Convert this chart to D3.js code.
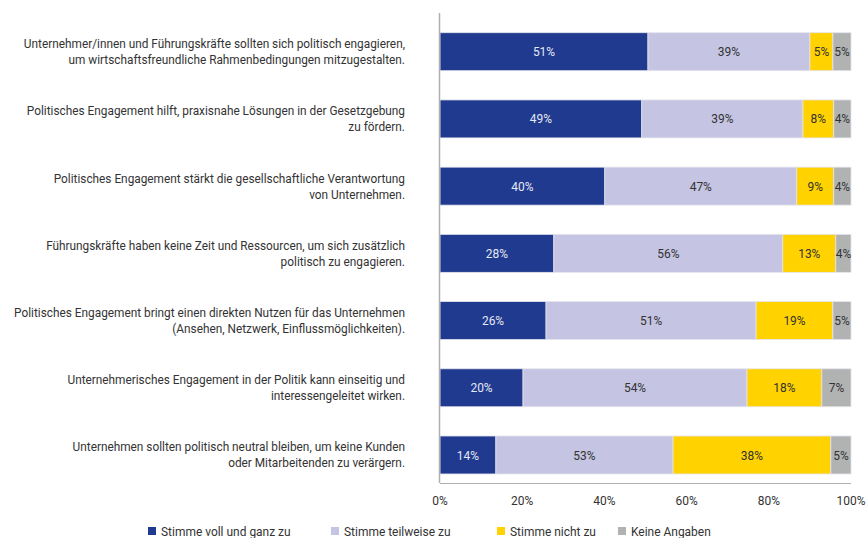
<!DOCTYPE html>
<html><head><meta charset="utf-8">
<script src="https://cdn.jsdelivr.net/npm/d3@7"></script>
<style>
body{margin:0;background:#fff;}
text{font-family:"Roboto","Liberation Sans",sans-serif;}
</style></head>
<body><svg id="c" width="867" height="538"></svg>
<script>
const categories = [
  ["Unternehmer/innen und Führungskräfte sollten sich politisch engagieren,","um wirtschaftsfreundliche Rahmenbedingungen mitzugestalten."],
  ["Politisches Engagement hilft, praxisnahe Lösungen in der Gesetzgebung","zu fördern."],
  ["Politisches Engagement stärkt die gesellschaftliche Verantwortung","von Unternehmen."],
  ["Führungskräfte haben keine Zeit und Ressourcen, um sich zusätzlich","politisch zu engagieren."],
  ["Politisches Engagement bringt einen direkten Nutzen für das Unternehmen","(Ansehen, Netzwerk, Einflussmöglichkeiten)."],
  ["Unternehmerisches Engagement in der Politik kann einseitig und","interessengeleitet wirken."],
  ["Unternehmen sollten politisch neutral bleiben, um keine Kunden","oder Mitarbeitenden zu verärgern."]
];
const seriesNames = ["Stimme voll und ganz zu","Stimme teilweise zu","Stimme nicht zu","Keine Angaben"];
// bar widths
const voll     = [50.6, 49.1, 40.1, 27.7, 25.8, 20.2, 13.6];
const teilweise= [39.4, 39.2, 46.7, 55.7, 51.1, 54.5, 43.1];
const nicht    = [5.6, 7.5, 9.0, 12.9, 18.7, 18.2, 38.4];
const keine    = [4.4, 4.2, 4.2, 3.7, 4.4, 7.1, 4.9];
// printed labels
const vollLbl      = ["51%","49%","40%","28%","26%","20%","14%"];
const teilweiseLbl = ["39%","39%","47%","56%","51%","54%","53%"];
const nichtLbl     = ["5%","8%","9%","13%","19%","18%","38%"];
const keineLbl     = ["5%","4%","4%","4%","5%","7%","5%"];
const ticks = [0,20,40,60,80,100];
const colors = ["#1f3a8f","#c5c4e2","#ffd200","#b1b3b3"];
const textColors = ["#e6e8f2","#333","#333","#333"];

const svg = d3.select("#c");
function txt(xp, yp, anchor, size, fill, s, sx){
  return svg.append("g").attr("transform",`translate(${xp},${yp}) scale(${sx||0.92},1)`)
    .append("text").attr("dy","0.35em").attr("text-anchor",anchor)
    .attr("font-size",size).attr("fill",fill).text(s);
}
const x = d3.scaleLinear().domain([0,100]).range([440,851]);
const y = d3.scaleBand().domain(d3.range(categories.length)).range([18.1,488.6]).paddingInner(0.435).paddingOuter(0.2175);

const vals = [voll,teilweise,nicht,keine];
const lbls = [vollLbl,teilweiseLbl,nichtLbl,keineLbl];

categories.forEach((cat,i)=>{
  let acc = 0;
  vals.forEach((arr,s)=>{
    const v = arr[i];
    const x0 = x(acc), x1 = x(acc+v);
    svg.append("rect").attr("x",x0).attr("y",y(i)).attr("width",x1-x0).attr("height",y.bandwidth())
      .attr("fill",colors[s]).attr("stroke","#e4e4ee").attr("stroke-width",0.8);
    txt((x0+x1)/2, y(i)+y.bandwidth()/2, "middle", 13, textColors[s], lbls[s][i]);
    acc += v;
  });
  const cy = y(i)+y.bandwidth()/2;
  cat.forEach((line,k)=>{
    txt(405, cy-8+k*16, "end", 12.5, "#333", line, 0.947);
  });
});

// axes lines
svg.append("line").attr("x1",439.5).attr("x2",439.5).attr("y1",13).attr("y2",483).attr("stroke","#b0b0b0").attr("stroke-width",1.5);
svg.append("line").attr("x1",440).attr("x2",851).attr("y1",483.5).attr("y2",483.5).attr("stroke","#b0b0b0").attr("stroke-width",1);

ticks.forEach(t=>{
  txt(x(t), 500, "middle", 13, "#333", t+"%");
});

// legend
const legX = [148,331,497,618];
seriesNames.forEach((n,s)=>{
  svg.append("rect").attr("x",legX[s]).attr("y",527).attr("width",8).attr("height",8).attr("fill",colors[s]);
  txt(legX[s]+13, 531, "start", 13, "#333", n);
});
</script></body></html>
